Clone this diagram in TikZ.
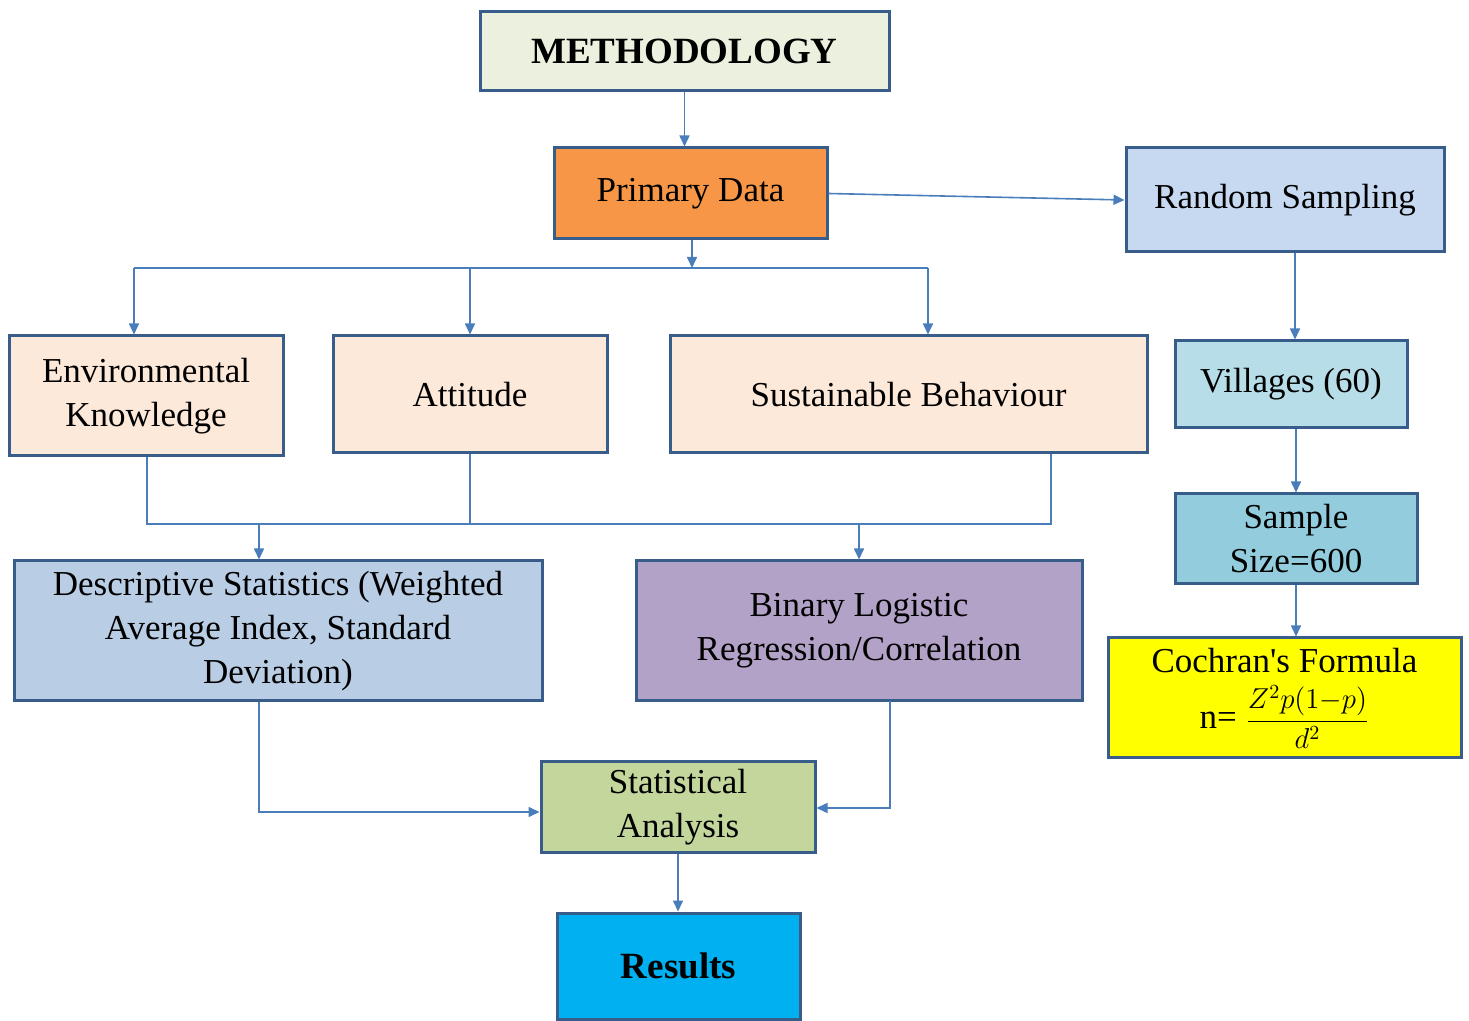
\documentclass[tikz,border=0pt]{standalone}
\usepackage{amsmath,amssymb}
\usepackage{fontspec}
\setmainfont{Liberation Serif}
\usepackage{tikz}
\usetikzlibrary{arrows.meta}
\definecolor{edge_dark}{RGB}{56,93,138}
\definecolor{edge_blue}{RGB}{74,126,187}
\definecolor{node_sage}{RGB}{235,241,222}
\definecolor{node_orange}{RGB}{247,150,70}
\definecolor{node_sky}{RGB}{198,217,241}
\definecolor{node_peach}{RGB}{253,233,217}
\definecolor{node_aqua}{RGB}{183,222,232}
\definecolor{node_teal}{RGB}{147,205,221}
\definecolor{node_yellow}{RGB}{255,255,0}
\definecolor{node_steel}{RGB}{185,205,229}
\definecolor{node_lilac}{RGB}{179,162,199}
\definecolor{node_olive}{RGB}{195,214,155}
\definecolor{node_cyan}{RGB}{0,176,240}

\begin{document}
\begin{tikzpicture}[->,>={Triangle[length=5.5pt,width=5pt]},x=0.5pt,y=-0.5pt,
    font=\fontsize{17.5}{22}\selectfont]
    \tikzstyle{box}=[draw=edge_dark, rectangle, line width=1.5pt, inner sep=0pt, align=center, text=black]
    \tikzstyle{link}=[draw=edge_blue, line width=0.8pt]
    \tikzstyle{head}=[style=box, font=\fontsize{18.5}{22}\selectfont\bfseries]

    \useasboundingbox (0,0) rectangle (1469,1021);

    \node[head, fill=node_sage, minimum width=204.5pt, minimum height=39.5pt] (meth) at (684.5,51.5) {METHODOLOGY};
    \node[box, fill=node_orange, minimum width=136.5pt, minimum height=45.5pt] (prim) at (690.5,193.5) {Primary Data};
    \node[box, fill=node_sky, minimum width=159pt, minimum height=52pt] (rand) at (1285,200) {Random Sampling};

    \node[box, fill=node_peach, minimum width=137pt, minimum height=60pt] (env) at (146,396) {Environmental\\Knowledge};
    \node[box, fill=node_peach, minimum width=137pt, minimum height=58.5pt] (att) at (470,394.5) {Attitude};
    \node[box, fill=node_peach, minimum width=238.5pt, minimum height=58.5pt] (sust) at (908.5,394.5) {Sustainable Behaviour};

    \node[box, fill=node_aqua, minimum width=116pt, minimum height=43.5pt] (vill) at (1291,384.5) {Villages (60)};
    \node[box, fill=node_teal, minimum width=121pt, minimum height=45pt] (samp) at (1296,539) {Sample\\Size=600};
    \node[box, fill=node_yellow, minimum width=176.5pt, minimum height=60pt] (coch) at (1284.5,698)
        {Cochran\textquotesingle s Formula\\[6pt]n= {\fontsize{14}{16}\selectfont$\displaystyle\frac{Z^2p(1{-}p)}{d^2}$}};

    \node[box, fill=node_steel, minimum width=264pt, minimum height=70pt] (desc) at (278,631)
        {Descriptive Statistics (Weighted\\Average Index, Standard\\Deviation)};
    \node[box, fill=node_lilac, minimum width=223pt, minimum height=70pt] (bin) at (859,631)
        {Binary Logistic\\Regression/Correlation};
    \node[box, fill=node_olive, minimum width=137pt, minimum height=45pt] (stat) at (678,807) {Statistical\\Analysis};
    \node[head, fill=node_cyan, minimum width=121.5pt, minimum height=53pt] (res) at (678.5,966) {Results};

    \coordinate (top_bus) at (692,268);
    \coordinate (bus_l) at (134,268);
    \coordinate (bus_r) at (928,268);
    \coordinate (mid_l) at (147,524);
    \coordinate (mid_r) at (1051,524);
    \coordinate (mid_d) at (259,524);
    \coordinate (low_b) at (890,701);

    \path
     (meth.south) edge[link] (meth.south |- prim.north)
     (prim.south -| top_bus) edge[link] (top_bus)
     (bus_l) edge[link] (bus_l |- env.north)
     (att.north |- top_bus) edge[link] (att.north)
     (bus_r) edge[link] (bus_r |- sust.north)
     (prim.east) edge[link] (rand.west)
     (rand.south -| 1295,0) edge[link] (vill.north -| 1295,0)
     (samp.north |- vill.south) edge[link] (samp.north)
     (samp.south) edge[link] (samp.south |- coch.north)
     (mid_d) edge[link] (mid_d |- desc.north)
     (bin.north |- mid_l) edge[link] (bin.north)
     (stat.south) edge[link] (stat.south |- res.north)
     ;

    \draw[link,-] (bus_l) -- (bus_r);
    \draw[link,-] (env.south -| mid_l) -- (mid_l) -- (mid_r) -- (mid_r |- sust.south);
    \draw[link,-] (att.south) -- (att.south |- mid_l);
    \draw[link] (mid_d |- desc.south) |- ([yshift=-2.5pt]stat.west);
    \draw[link] (low_b) |- ([yshift=-0.5pt]stat.east);
\end{tikzpicture}
\end{document}
